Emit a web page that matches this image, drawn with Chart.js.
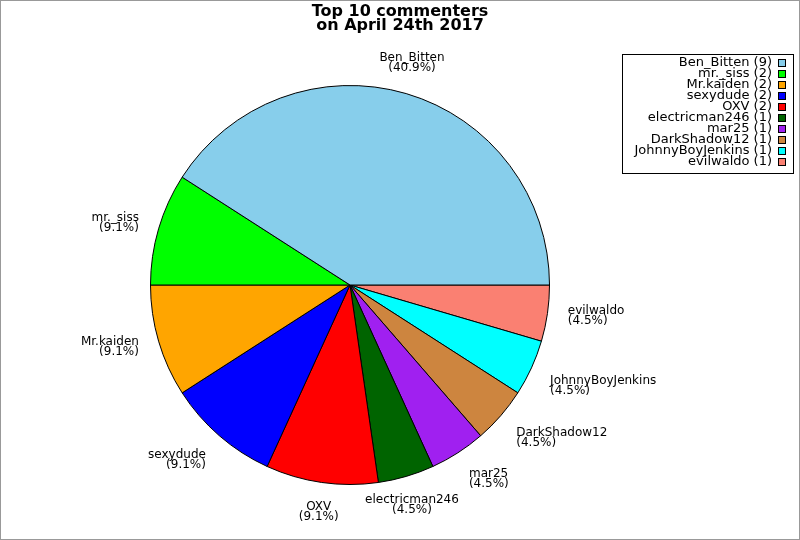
<!DOCTYPE html>
<html>
<head>
<meta charset="utf-8">
<script src="https://cdn.jsdelivr.net/npm/chart.js@4.4.1/dist/chart.umd.min.js"></script>
<style>
  html, body { margin: 0; padding: 0; background: #fff; }
  #wrap { width: 800px; height: 540px; position: relative; }
</style>
</head>
<body>
<div id="wrap"><canvas id="pie" width="800" height="540"></canvas></div>
<script>
// data
const names = ['Ben_Bitten', 'mr._siss', 'Mr.kaiden', 'sexydude', 'OXV',
               'electricman246', 'mar25', 'DarkShadow12', 'JohnnyBoyJenkins', 'evilwaldo'];
const counts = [9, 2, 2, 2, 2, 1, 1, 1, 1, 1];
const sliceColors = ['#87CEEB', '#00FF00', '#FFA500', '#0000FF', '#FF0000',
                     '#006400', '#A020F0', '#CD853F', '#00FFFF', '#FA8072'];
const titleLines = ['Top 10 commenters', 'on April 24th 2017'];

const total = counts.reduce((a, b) => a + b, 0);

// the original goes counter-clockwise from 3 o'clock, chart.js goes clockwise,
// so feed the slices reversed and start at 90deg
const revNames = names.slice().reverse();
const revCounts = counts.slice().reverse();
const revColors = sliceColors.slice().reverse();

const decorPlugin = {
    id: 'decor',
    afterDraw(chart) {
        const ctx = chart.ctx;
        ctx.save();

        // outer frame
        ctx.strokeStyle = '#999';
        ctx.lineWidth = 1;
        ctx.strokeRect(0.5, 0.5, 799, 539);

        // title
        ctx.fillStyle = '#000';
        ctx.font = 'bold 16px "DejaVu Sans"';
        ctx.textAlign = 'center';
        ctx.textBaseline = 'middle';
        titleLines.forEach((t, i) => ctx.fillText(t, 400, 12 + i * 14));

        // slice labels outside the pie
        ctx.font = '12px "DejaVu Sans"';
        const meta = chart.getDatasetMeta(0);
        meta.data.forEach((arc, i) => {
            const mid = (arc.startAngle + arc.endAngle) / 2;
            const c = Math.cos(mid), s = Math.sin(mid);
            const r = 220;
            const px = arc.x + c * r;
            const py = arc.y + s * r;
            ctx.textAlign = c > 0.35 ? 'left' : (c < -0.35 ? 'right' : 'center');
            let y1;
            if (s > 0.35) y1 = py + 4;          // below the pie
            else if (s < -0.35) y1 = py - 16;   // above the pie
            else y1 = py - 5;
            const pct = (revCounts[i] / total * 100).toFixed(1);
            ctx.fillText(revNames[i], px, y1);
            ctx.fillText('(' + pct + '%)', px, y1 + 10);
        });

        // legend box
        ctx.strokeStyle = '#000';
        ctx.strokeRect(622.5, 54.5, 171, 119);
        ctx.font = '13px "DejaVu Sans"';
        ctx.textAlign = 'right';
        names.forEach((n, i) => {
            const y = 63 + i * 11;
            ctx.fillStyle = '#000';
            ctx.fillText(n + ' (' + counts[i] + ')', 772, y);
            ctx.fillStyle = sliceColors[i];
            ctx.fillRect(778.5, y - 3.5, 7, 7);
            ctx.strokeRect(778.5, y - 3.5, 7, 7);
        });

        ctx.restore();
    }
};

new Chart(document.getElementById('pie'), {
    type: 'pie',
    data: {
        labels: revNames,
        datasets: [{
            data: revCounts,
            backgroundColor: revColors,
            borderColor: '#000',
            borderWidth: 1
        }]
    },
    options: {
        responsive: false,
        animation: false,
        devicePixelRatio: 1,
        events: [],
        rotation: 90,
        layout: {
            padding: { left: 150, right: 250, top: 85, bottom: 55 }
        },
        plugins: {
            legend: { display: false },
            title: { display: false },
            tooltip: { enabled: false }
        }
    },
    plugins: [decorPlugin]
});
</script>
</body>
</html>
